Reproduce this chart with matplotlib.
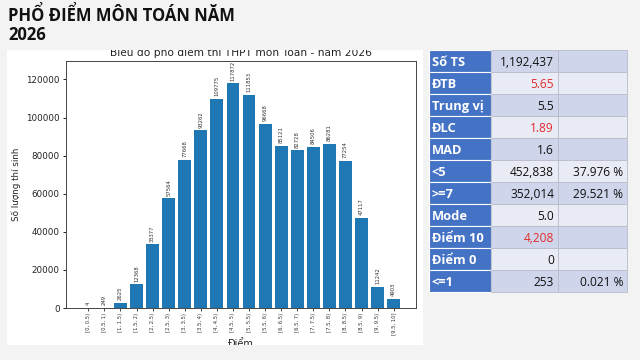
import matplotlib
matplotlib.use("Agg")
import matplotlib.pyplot as plt
from matplotlib.patches import Rectangle

# ---------------- data ----------------
bins = ["[0, 0.5)", "[0.5, 1)", "[1, 1.5)", "[1.5, 2)", "[2, 2.5)", "[2.5, 3)",
        "[3, 3.5)", "[3.5, 4)", "[4, 4.5)", "[4.5, 5)", "[5, 5.5)", "[5.5, 6)",
        "[6, 6.5)", "[6.5, 7)", "[7, 7.5)", "[7.5, 8)", "[8, 8.5)", "[8.5, 9)",
        "[9, 9.5)", "[9.5, 10]"]
counts = [4, 249, 2625, 12368, 33377, 57564, 77668, 93262, 109775, 117872,
          111853, 96668, 85121, 82728, 84506, 86281, 77254, 47117, 11242, 4903]

row_labels = ["Số TS", "ĐTB", "Trung vị", "ĐLC", "MAD", "<5", ">=7",
              "Mode", "Điểm 10", "Điểm 0", "<=1"]
row_values = ["1,192,437", "5.65", "5.5", "1.89", "1.6", "452,838", "352,014",
              "5.0", "4,208", "0", "253"]
row_pcts = ["", "", "", "", "", "37.976 %", "29.521 %", "", "", "", "0.021 %"]
red_rows = ["ĐTB", "ĐLC", "Điểm 10"]

slide_title = "PHỔ ĐIỂM MÔN TOÁN NĂM\n2026"
chart_title = "Biểu đồ phổ điểm thi THPT môn Toán - năm 2026"

# ---------------- layout helpers ----------------
W, H = 640, 360
BG = "#f3f3f3"


def fx(px):
    return px / W


def fy(py):
    return 1 - py / H


fig = plt.figure(figsize=(6.4, 3.6), dpi=100)
fig.patch.set_facecolor(BG)

# white chart panel
fig.add_artist(Rectangle((fx(7), fy(345)), fx(423) - fx(7), fy(50) - fy(345),
                         transform=fig.transFigure, facecolor="white",
                         edgecolor="none", zorder=0))

ax = fig.add_axes([fx(66), fy(308), fx(416) - fx(66), fy(61) - fy(308)])
x = list(range(len(bins)))
bars = ax.bar(x, counts, color="#1f77b4", width=0.8)
ax.bar_label(bars, labels=[str(c) for c in counts], rotation=90, fontsize=3.8,
             padding=2, color="#333333")
ax.set_ylim(0, max(counts) * 1.1)
ax.set_xticks(x)
ax.set_xticklabels(bins, rotation=90, fontsize=3.8, color="#333333")
ax.tick_params(axis="x", length=2, width=0.5, pad=1.5)
ax.tick_params(axis="y", labelsize=6.3, length=2.5, width=0.6, pad=2,
               labelcolor="#222222")
ax.set_yticks([0, 20000, 40000, 60000, 80000, 100000, 120000])
ax.set_ylabel("Số lượng thí sinh", fontsize=6.3, labelpad=4, color="#222222")
ax.set_xlabel("Điểm", fontsize=7, labelpad=2.5, color="#222222")
ax.set_title(chart_title, fontsize=7.7, pad=3.6, color="#222222")
for s in ax.spines.values():
    s.set_linewidth(0.7)
    s.set_color("#444444")

# covers clipping the chart image (top and bottom)
fig.add_artist(Rectangle((0, fy(50)), 1, fy(0) - fy(50),
                         transform=fig.transFigure, facecolor=BG,
                         edgecolor="none", zorder=10))
fig.add_artist(Rectangle((0, 0), fx(425), fy(345),
                         transform=fig.transFigure, facecolor=BG,
                         edgecolor="none", zorder=10))

# slide title
fig.text(fx(8), fy(6), slide_title, ha="left", va="top", fontsize=12,
         fontweight="bold", family="Open Sans", color="#111111",
         linespacing=1.08, zorder=11)

# ---------------- stats table ----------------
top, rh = 50, 22
c0, c1, c2, c3 = 429, 491, 558, 627
dark, light = "#cfd5ea", "#e9ebf5"
for i, (lab, val, pct) in enumerate(zip(row_labels, row_values, row_pcts)):
    y0 = top + i * rh
    fill = dark if i % 2 == 0 else light
    fig.add_artist(Rectangle((fx(c0), fy(y0 + rh)), fx(c1) - fx(c0), fy(y0) - fy(y0 + rh),
                             transform=fig.transFigure, facecolor="#4472c4",
                             edgecolor="white", linewidth=0.8, zorder=12))
    fig.add_artist(Rectangle((fx(c1), fy(y0 + rh)), fx(c2) - fx(c1), fy(y0) - fy(y0 + rh),
                             transform=fig.transFigure, facecolor=fill,
                             edgecolor="#b8bccb", linewidth=0.6, zorder=12))
    fig.add_artist(Rectangle((fx(c2), fy(y0 + rh)), fx(c3) - fx(c2), fy(y0) - fy(y0 + rh),
                             transform=fig.transFigure, facecolor=fill,
                             edgecolor="#b8bccb", linewidth=0.6, zorder=12))
    yc = fy(y0 + rh / 2 + 1)
    fig.text(fx(c0 + 3), yc, lab, ha="left", va="center", fontsize=9.3,
             fontweight="bold", family="Open Sans", color="white", zorder=13)
    fig.text(fx(c2 - 4), yc, val, ha="right", va="center", fontsize=8.6,
             family="Open Sans",
             color="#e02b2b" if lab in red_rows else "#111111", zorder=13)
    if pct:
        fig.text(fx(c3 - 4), yc, pct, ha="right", va="center", fontsize=8.6,
                 family="Open Sans", color="#111111", zorder=13)

fig.savefig("out.png", dpi=100, facecolor=fig.get_facecolor())
